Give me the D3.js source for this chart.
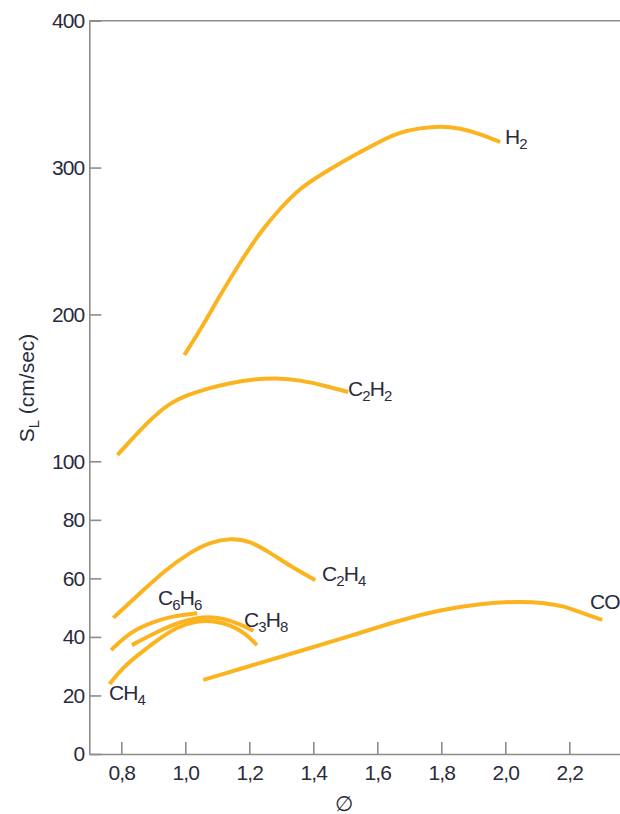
<!DOCTYPE html>
<html><head><meta charset="utf-8">
<script src="https://cdn.jsdelivr.net/npm/d3@7"></script>
<style>
html,body{margin:0;padding:0;background:#fff;}
svg{display:block;font-family:"Liberation Sans",Arial,Helvetica,sans-serif;}
</style></head>
<body>
<svg id="chart" width="620" height="814"></svg>
<script>
// ---- data ----
const xTicks = [0.8, 1.0, 1.2, 1.4, 1.6, 1.8, 2.0, 2.2];
const xTickLabels = ["0,8", "1,0", "1,2", "1,4", "1,6", "1,8", "2,0", "2,2"];
const yTicks = [0, 20, 40, 60, 80, 100, 200, 300, 400];

const h2Phi  = [0.997,1.047,1.109,1.172,1.234,1.297,1.359,1.422,1.484,1.547,1.609,1.672,1.734,1.797,1.859,1.922,1.984];
const h2SL   = [172.4,189.5,213.2,235.7,256.1,272.4,286.1,294.9,303.1,310.6,318.0,324.2,326.9,328.3,326.9,322.8,317.4];

const c2h2Phi = [0.788,0.844,0.906,0.953,1.0,1.063,1.141,1.219,1.281,1.359,1.438,1.509];
const c2h2SL  = [104.3,117.9,131.5,139.7,144.5,149.2,153.4,156.0,156.7,155.4,151.3,147.2];

const c2h4Phi = [0.775,0.859,0.938,1.016,1.078,1.141,1.203,1.266,1.328,1.406];
const c2h4SL  = [46.5,55.0,62.9,69.0,72.4,73.8,72.8,68.7,64.2,59.4];

const c6h6Phi = [0.768,0.828,0.901,0.963,1.037];
const c6h6SL  = [35.5,41.8,45.2,47.2,48.1];

const c3h8Phi = [0.833,0.912,0.984,1.057,1.120,1.172,1.213];
const c3h8SL  = [37.2,41.8,45.2,47.1,46.4,44.3,42.1];

const ch4Phi = [0.763,0.807,0.859,0.912,0.974,1.037,1.088,1.141,1.188,1.224];
const ch4SL  = [23.9,29.8,34.4,38.9,43.5,45.5,45.5,44.1,41.2,37.2];

const coPhi = [1.056,1.203,1.359,1.516,1.672,1.797,1.922,2.047,2.125,2.18,2.23,2.303];
const coSL  = [25.3,30.1,35.2,40.3,45.8,49.2,51.4,52.2,51.6,50.6,48.6,45.8];

const series = [
  {name:"H2",   phi:h2Phi,   sl:h2SL,   label:["H","2"],           lx:505, ly:144},
  {name:"C2H2", phi:c2h2Phi, sl:c2h2SL, label:["C","2","H","2"],   lx:348, ly:396},
  {name:"C2H4", phi:c2h4Phi, sl:c2h4SL, label:["C","2","H","4"],   lx:322, ly:581},
  {name:"C6H6", phi:c6h6Phi, sl:c6h6SL, label:["C","6","H","6"],   lx:158, ly:605},
  {name:"C3H8", phi:c3h8Phi, sl:c3h8SL, label:["C","3","H","8"],   lx:244, ly:627},
  {name:"CH4",  phi:ch4Phi,  sl:ch4SL,  label:["CH","4"],          lx:109, ly:700},
  {name:"CO",   phi:coPhi,   sl:coSL,   label:["CO"],              lx:590, ly:609}
];

// ---- scales ----
const x = d3.scaleLinear().domain([0.7, 2.36]).range([89.3, 620.5]);
const y = d3.scaleLinear().domain([0, 100, 400]).range([754, 461.3, 20.7]);

const svg = d3.select("#chart");
const axisColor = "#8c8c8c";
const textColor = "#2a2b3c";
const lineColor = "#fbb41f";

// top border line
svg.append("line")
  .attr("x1", x(0.7)).attr("x2", x(2.36))
  .attr("y1", y(400)).attr("y2", y(400))
  .attr("stroke", axisColor).attr("stroke-width", 1.6);

// axes
const gx = svg.append("g").attr("transform", `translate(0,${y(0)})`)
  .call(d3.axisBottom(x).tickValues(xTicks).tickFormat((d,i)=>xTickLabels[i])
        .tickSizeInner(-12).tickSizeOuter(0).tickPadding(11));
const gy = svg.append("g").attr("transform", `translate(${x(0.7)},0)`)
  .call(d3.axisLeft(y).tickValues(yTicks).tickFormat(d3.format("d"))
        .tickSizeInner(-12).tickSizeOuter(0).tickPadding(5));
[gx, gy].forEach(g => {
  g.select(".domain").attr("stroke", axisColor).attr("stroke-width", 1.6);
  g.selectAll(".tick line").attr("stroke", axisColor).attr("stroke-width", 1.6);
  g.selectAll(".tick text").attr("fill", textColor)
    .style("font-size", "21px").style("font-family", "'Liberation Sans',Arial,sans-serif")
    .style("letter-spacing", "-0.9px");
});

// curves
const line = d3.line().x(d => x(d[0])).y(d => y(d[1])).curve(d3.curveBasis);
series.forEach(s => {
  const pts = s.phi.map((p, i) => [p, s.sl[i]]);
  svg.append("path").attr("d", line(pts))
    .attr("fill", "none").attr("stroke", lineColor)
    .attr("stroke-width", 4).attr("stroke-linecap", "butt");
});

// labels with subscripts
function chemLabel(parts, lx, ly) {
  const t = svg.append("text").attr("x", lx).attr("y", ly)
    .attr("fill", textColor).style("font-size", "21px").style("letter-spacing", "-0.9px");
  parts.forEach((p, i) => {
    const isSub = /^[0-9]$/.test(p);
    const prevSub = i > 0 && /^[0-9]$/.test(parts[i-1]);
    const ts = t.append("tspan").text(p);
    if (isSub) ts.attr("dy", 5).style("font-size", "15px");
    else if (prevSub) ts.attr("dy", -5);
  });
}
series.forEach(s => chemLabel(s.label, s.lx, s.ly));

// y-axis title
const yt = svg.append("text")
  .attr("transform", "translate(34,388) rotate(-90)")
  .attr("text-anchor", "middle").attr("fill", textColor)
  .style("font-size", "21px");
yt.append("tspan").text("S");
yt.append("tspan").text("L").attr("dy", 5).style("font-size", "15px");
yt.append("tspan").text(" (cm/sec)").attr("dy", -5);

// x-axis title
svg.append("text").attr("x", 344).attr("y", 811)
  .attr("text-anchor", "middle").attr("fill", textColor)
  .style("font-size", "21px").text("\u2205");
</script>
</body></html>
